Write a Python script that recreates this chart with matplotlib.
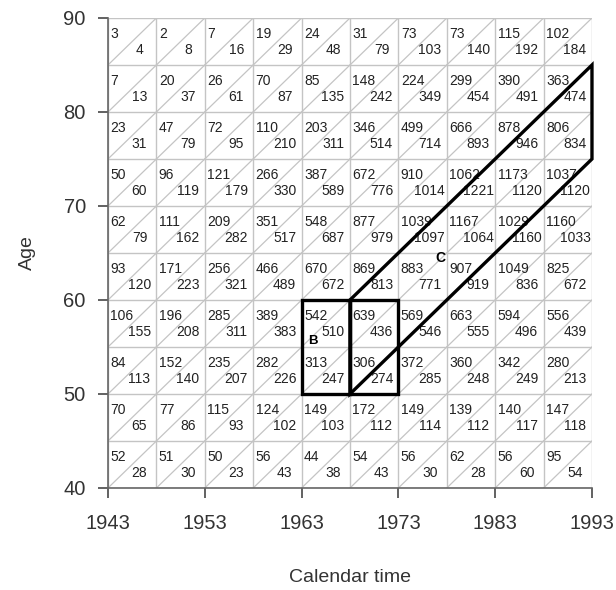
import matplotlib.pyplot as plt
from matplotlib.patches import Rectangle, Polygon

plt.rcParams['font.family'] = ['Liberation Sans', 'DejaVu Sans']

# grid breaks (calendar period and age band edges)
years = [1943, 1948, 1953, 1958, 1963, 1968, 1973, 1978, 1983, 1988, 1993]
ages = [40, 45, 50, 55, 60, 65, 70, 75, 80, 85, 90]

# counts per cell, rows from age 40-45 up to 85-90
# upper = upper-left triangle, lower = lower-right triangle
upper = [
    [52, 51, 50, 56, 44, 54, 56, 62, 56, 95],
    [70, 77, 115, 124, 149, 172, 149, 139, 140, 147],
    [84, 152, 235, 282, 313, 306, 372, 360, 342, 280],
    [106, 196, 285, 389, 542, 639, 569, 663, 594, 556],
    [93, 171, 256, 466, 670, 869, 883, 907, 1049, 825],
    [62, 111, 209, 351, 548, 877, 1039, 1167, 1029, 1160],
    [50, 96, 121, 266, 387, 672, 910, 1062, 1173, 1037],
    [23, 47, 72, 110, 203, 346, 499, 666, 878, 806],
    [7, 20, 26, 70, 85, 148, 224, 299, 390, 363],
    [3, 2, 7, 19, 24, 31, 73, 73, 115, 102],
]
lower = [
    [28, 30, 23, 43, 38, 43, 30, 28, 60, 54],
    [65, 86, 93, 102, 103, 112, 114, 112, 117, 118],
    [113, 140, 207, 226, 247, 274, 285, 248, 249, 213],
    [155, 208, 311, 383, 510, 436, 546, 555, 496, 439],
    [120, 223, 321, 489, 672, 813, 771, 919, 836, 672],
    [79, 162, 282, 517, 687, 979, 1097, 1064, 1160, 1033],
    [60, 119, 179, 330, 589, 776, 1014, 1221, 1120, 1120],
    [31, 79, 95, 210, 311, 514, 714, 893, 946, 834],
    [13, 37, 61, 87, 135, 242, 349, 454, 491, 474],
    [4, 8, 16, 29, 48, 79, 103, 140, 192, 184],
]

fig = plt.figure(figsize=(6.16, 5.90), dpi=100)
ax = fig.add_axes([0.1753, 0.1729, 0.7857, 0.7966])

grey = '#c4c4c4'
# Lexis grid
ax.hlines(ages, years[0], years[-1], color=grey, lw=1, zorder=1)
ax.vlines(years, ages[0], ages[-1], color=grey, lw=1, zorder=1)
for i in range(len(ages) - 1):
    for j in range(len(years) - 1):
        x0, y0 = years[j], ages[i]
        w = years[j + 1] - x0
        h = ages[i + 1] - y0
        ax.plot([x0, x0 + w], [y0, y0 + h], color=grey, lw=0.9, zorder=1)
        ax.text(x0 + 0.25, y0 + 3.3, str(upper[i][j]), ha='left', va='center',
                fontsize=10, color='#222222', zorder=2)
        ax.text(x0 + w / 2 + 0.75, y0 + 1.55, str(lower[i][j]), ha='center',
                va='center', fontsize=10, color='#222222', zorder=2)

# --- B: two period-age rectangles ---
for x0 in [1963, 1968]:
    ax.add_patch(Rectangle((x0, 50), 5, 10, fill=False, ec='black', lw=2.4,
                           clip_on=False, zorder=3))
ax.text(1964.2, 55.6, 'B', fontsize=9.5, fontweight='bold', ha='center', va='center',
        zorder=4)

# --- C: cohort parallelogram ---
ax.add_patch(Polygon([(1968, 50), (1993, 75), (1993, 85), (1968, 60)], closed=True,
                     fill=False, ec='black', lw=2.4, clip_on=False, joinstyle='miter',
                     zorder=3))
ax.text(1977.3, 64.5, 'C', fontsize=10, fontweight='bold', ha='center', va='center',
        zorder=4)

ax.set_xlim(years[0], years[-1])
ax.set_ylim(ages[0], ages[-1])
ax.set_xticks(years[::2])
ax.set_yticks(ages[::2])

for s in ['top', 'right']:
    ax.spines[s].set_visible(False)
for s in ['left', 'bottom']:
    ax.spines[s].set_color('#666666')
    ax.spines[s].set_linewidth(1.2)
ax.tick_params(axis='both', length=7, width=1.3, color='#555555',
               labelsize=14.5, labelcolor='#333333')
ax.tick_params(axis='x', pad=12)
ax.tick_params(axis='y', pad=9)

ax.set_xlabel('Calendar time', fontsize=14, color='#333333', labelpad=26)
ax.set_ylabel('Age', fontsize=14, color='#333333', labelpad=20)

fig.savefig('out.png', dpi=100)
